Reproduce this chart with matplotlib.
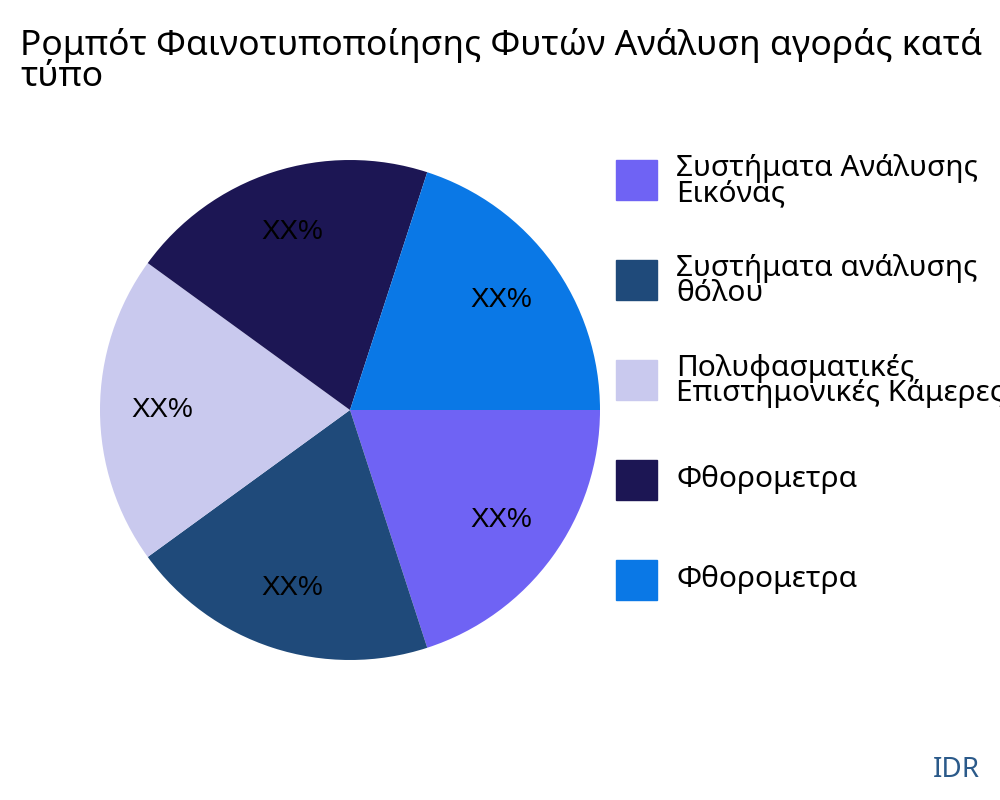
import matplotlib
matplotlib.use("Agg")
import matplotlib.pyplot as plt
from matplotlib.patches import Rectangle
import numpy as np

labels = ["Συστήματα Ανάλυσης\nΕικόνας", "Συστήματα ανάλυσης\nθόλου",
          "Πολυφασματικές\nΕπιστημονικές Κάμερες", "Φθορομετρα", "Φθορομετρα"]
values = [20, 20, 20, 20, 20]
pct_text = ["XX%"] * 5
colors = ["#6F63F4", "#1F4A7A", "#C9C9EE", "#1C1654", "#0A78E6"]

plt.rcParams['font.family'] = ['Noto Sans', 'DejaVu Sans']
fig = plt.figure(figsize=(10, 8), dpi=100)

ax = fig.add_axes([0.1, 0.175, 0.5, 0.625])
wedges, _ = ax.pie(values, colors=colors, startangle=0, counterclock=False,
                   radius=1.0)
ax.set_xlim(-1, 1)
ax.set_ylim(-1, 1)
ax.set_aspect('equal')
for w, t in zip(wedges, pct_text):
    ang = np.deg2rad((w.theta1 + w.theta2) / 2)
    ax.text(0.75 * np.cos(ang), 0.75 * np.sin(ang), t, ha='center', va='center',
            fontsize=20, family='Liberation Sans', color='black')

fig.text(0.02, 0.965, "Ρομπότ Φαινοτυποποίησης Φυτών Ανάλυση αγοράς κατά\nτύπο",
         fontsize=25.5, va='top', ha='left', linespacing=0.9)

for i, (lab, c) in enumerate(zip(labels, colors)):
    y = 0.775 - i * 0.125
    fig.patches.append(Rectangle((0.616, y - 0.025), 0.041, 0.05, color=c,
                                 transform=fig.transFigure))
    if "\n" in lab:
        fig.text(0.676, y + 0.033, lab, fontsize=21.5, va='top', ha='left', linespacing=0.85)
    else:
        fig.text(0.676, y, lab, fontsize=21.5, va='center', ha='left')

fig.text(0.98, 0.038, "IDR", fontsize=20, color="#2B5A8A", ha='right', va='center')

fig.savefig("out.png", dpi=100)
